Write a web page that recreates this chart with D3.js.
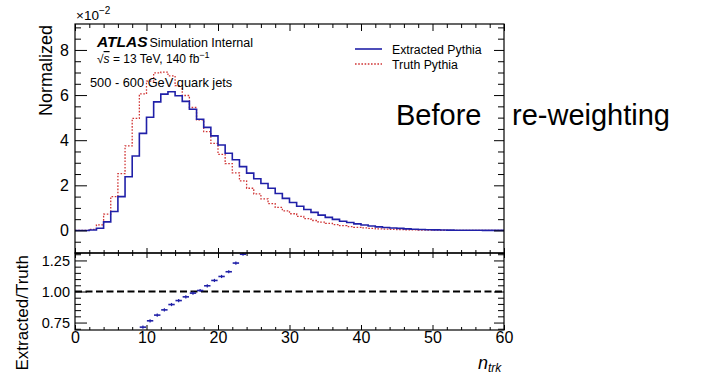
<!DOCTYPE html>
<html>
<head>
<meta charset="utf-8">
<script src="https://cdn.jsdelivr.net/npm/d3@7"></script>
<style>
  html, body { margin: 0; padding: 0; background: #fff; }
  svg { display: block; }
</style>
</head>
<body>
<svg id="chart" width="720" height="376"></svg>
<script>
// ---------------- DATA ----------------
const nBins = 60;
const xRange = [0, 60];
// Normalized distributions (x 10^-2), one value per unit bin of n_trk
const extracted = [
  0, 0, 0.02, 0.10, 0.38, 0.84, 1.50, 2.38, 3.30, 4.30,
  5.02, 5.70, 6.04, 6.15, 5.97, 5.72, 5.37, 4.93, 4.57, 4.19,
  3.79, 3.42, 3.13, 2.83, 2.54, 2.29, 2.08, 1.87, 1.64, 1.42,
  1.24, 1.07, 0.93, 0.80, 0.68, 0.58, 0.49, 0.41, 0.35, 0.29,
  0.24, 0.20, 0.16, 0.13, 0.11, 0.09, 0.07, 0.05, 0.04, 0.03,
  0.025, 0.02, 0.015, 0.01, 0.01, 0.008, 0.006, 0.005, 0.004, 0.003
];
const truth = [
  0, 0, 0.05, 0.25, 0.72, 1.50, 2.52, 3.75, 4.97, 6.05,
  6.62, 6.98, 7.02, 6.85, 6.42, 5.98, 5.45, 4.90, 4.38, 3.86,
  3.37, 2.96, 2.55, 2.20, 1.87, 1.62, 1.40, 1.19, 1.02, 0.87,
  0.74, 0.62, 0.52, 0.44, 0.37, 0.31, 0.26, 0.21, 0.17, 0.14,
  0.11, 0.09, 0.07, 0.06, 0.05, 0.04, 0.03, 0.025, 0.02, 0.015,
  0.01, 0.008, 0.006, 0.005, 0.004, 0.003, 0.002, 0.002, 0.001, 0.001
];
// Ratio points visible in the lower panel (bin index -> Extracted/Truth)
const ratioBins   = [9, 10, 11, 12, 13, 14, 15, 16, 17, 18, 19, 20, 21, 22, 23];
const ratioValues = [0.713, 0.764, 0.81, 0.852, 0.895, 0.927, 0.957, 0.987, 1.008, 1.046, 1.089, 1.121, 1.159, 1.229, 1.30];

const xMajorTicks = [0, 10, 20, 30, 40, 50, 60];
const yMajorTicks = [0, 2, 4, 6, 8];
const rMajorTicks = [0.75, 1.00, 1.25];
const seriesNames = ["Extracted Pythia", "Truth Pythia"];

// ---------------- LAYOUT ----------------
const FONT = "'Liberation Sans', Arial, Helvetica, sans-serif";
const L = 75, R = 504, T = 24, MID = 253, B = 330;
const blue = "#2020a8", red = "#d03535";

const svg = d3.select("#chart");

const x = d3.scaleLinear().domain(xRange).range([L, R]);
const y = d3.scaleLinear().domain([-1, 9.15]).range([MID, T]);
const yr = d3.scaleLinear().domain([0.69, 1.31]).range([B, MID]);

function range(a, b, s) { const o = []; for (let v = a; v <= b + 1e-9; v += s) o.push(+v.toFixed(4)); return o; }
const notIn = (arr) => (v) => !arr.some(m => Math.abs(m - v) < 1e-6);

const xMinor = range(0, 60, 2).filter(notIn(xMajorTicks));
const yMinor = range(-1, 9, 0.5).filter(notIn(yMajorTicks));
const rMinor = range(0.70, 1.30, 0.05).filter(notIn(rMajorTicks));

// "Before re-weighting" big annotation (behind the frame)
svg.append("text").attr("font-family", FONT).attr("font-size", 29).attr("fill", "#000")
  .attr("x", 396).attr("y", 125).text("Before");
svg.append("text").attr("font-family", FONT).attr("font-size", 29).attr("fill", "#000")
  .attr("x", 512).attr("y", 125).text("re-weighting");

// clip paths
const defs = svg.append("defs");
defs.append("clipPath").attr("id", "clipTop").append("rect")
  .attr("x", L).attr("y", T).attr("width", R - L).attr("height", MID - T);
defs.append("clipPath").attr("id", "clipRat").append("rect")
  .attr("x", L).attr("y", MID - 1).attr("width", R - L).attr("height", B - MID + 1);

// ---------------- HISTOGRAMS ----------------
function stepPoints(vals) {
  const pts = [];
  vals.forEach((v, i) => {
    const x0 = xRange[0] + i * (xRange[1] - xRange[0]) / nBins;
    const x1 = xRange[0] + (i + 1) * (xRange[1] - xRange[0]) / nBins;
    pts.push([x0, v], [x1, v]);
  });
  return pts;
}
const line = d3.line().x(d => x(d[0])).y(d => y(d[1]));

const gTop = svg.append("g").attr("clip-path", "url(#clipTop)");
gTop.append("path").attr("d", line(stepPoints(truth)))
  .attr("fill", "none").attr("stroke", red).attr("stroke-width", 1.3)
  .attr("stroke-dasharray", "1.6,1.6");
gTop.append("path").attr("d", line(stepPoints(extracted)))
  .attr("fill", "none").attr("stroke", blue).attr("stroke-width", 1.6);

// ---------------- RATIO ----------------
const gRat = svg.append("g").attr("clip-path", "url(#clipRat)");
gRat.append("line").attr("x1", x(0)).attr("x2", x(60)).attr("y1", yr(1)).attr("y2", yr(1))
  .attr("stroke", "#000").attr("stroke-width", 2).attr("stroke-dasharray", "7,3.5");
const binW = (xRange[1] - xRange[0]) / nBins;
ratioBins.forEach((b, i) => {
  const cx = x(xRange[0] + (b + 0.5) * binW), cy = yr(ratioValues[i]);
  gRat.append("line").attr("x1", cx - 3.2).attr("x2", cx + 3.2).attr("y1", cy).attr("y2", cy)
    .attr("stroke", blue).attr("stroke-width", 1.6);
  gRat.append("line").attr("x1", cx).attr("x2", cx).attr("y1", cy - 1.6).attr("y2", cy + 1.6)
    .attr("stroke", blue).attr("stroke-width", 1.2);
});

// ---------------- AXES ----------------
function axis(gen, tx, ty, vals, size, fmt, pad, fs) {
  const g = svg.append("g").attr("transform", `translate(${tx},${ty})`)
    .call(gen.tickValues(vals).tickSize(size).tickSizeOuter(0).tickPadding(pad || 3)
      .tickFormat(fmt || (() => "")));
  g.select(".domain").remove();
  g.selectAll(".tick line").attr("stroke", "#000").attr("stroke-width", 1);
  g.attr("font-family", FONT).attr("font-size", fs || 15);
  g.selectAll(".tick text").attr("fill", "#000");
  return g;
}
// top panel
axis(d3.axisLeft(y), L, 0, yMajorTicks, -12, d3.format("d"), 6, 16);
axis(d3.axisLeft(y), L, 0, yMinor, -6);
axis(d3.axisRight(y), R, 0, yMajorTicks, -10);
axis(d3.axisRight(y), R, 0, yMinor, -6);
axis(d3.axisTop(x), 0, T, xMajorTicks, -7);
axis(d3.axisTop(x), 0, T, xMinor, -4);
axis(d3.axisBottom(x), 0, MID, xMajorTicks, -5);
axis(d3.axisBottom(x), 0, MID, xMinor, -3);
// ratio panel
axis(d3.axisTop(x), 0, MID, xMajorTicks, -5);
axis(d3.axisTop(x), 0, MID, xMinor, -3);
axis(d3.axisBottom(x), 0, B, xMajorTicks, -5, d3.format("d"), 2, 16);
axis(d3.axisBottom(x), 0, B, xMinor, -3);
axis(d3.axisLeft(yr), L, 0, rMajorTicks, -12, d3.format(".2f"), 5, 14.5);
axis(d3.axisLeft(yr), L, 0, rMinor, -6);
axis(d3.axisRight(yr), R, 0, rMajorTicks, -10);
axis(d3.axisRight(yr), R, 0, rMinor, -6);

// frames
svg.append("rect").attr("x", L).attr("y", T).attr("width", R - L).attr("height", MID - T)
  .attr("fill", "none").attr("stroke", "#000").attr("stroke-width", 1.2);
svg.append("rect").attr("x", L).attr("y", MID).attr("width", R - L).attr("height", B - MID)
  .attr("fill", "none").attr("stroke", "#000").attr("stroke-width", 1.2);

// ---------------- TEXT ----------------
// x10^-2
const mult = svg.append("text").attr("font-family", FONT).attr("font-size", 13.5).attr("x", 76).attr("y", 20);
mult.append("tspan").text("×10");
mult.append("tspan").attr("font-size", 10).attr("dy", -6).text("−2");

// y titles
svg.append("text").attr("font-family", FONT).attr("font-size", 18).attr("text-anchor", "end")
  .attr("transform", "translate(52,25) rotate(-90)").text("Normalized");
svg.append("text").attr("font-family", FONT).attr("font-size", 17).attr("text-anchor", "end")
  .attr("transform", "translate(28,255) rotate(-90)").text("Extracted/Truth");

// x title
const xt = svg.append("text").attr("font-family", FONT).attr("x", 478).attr("y", 369);
xt.append("tspan").attr("font-size", 18).attr("font-style", "italic").text("n");
xt.append("tspan").attr("font-size", 12).attr("font-style", "italic").attr("dy", 3).text("trk");

// ATLAS label
const atl = svg.append("text").attr("font-family", FONT).attr("x", 97).attr("y", 47);
atl.append("tspan").attr("font-size", 15.5).attr("font-weight", "bold").attr("font-style", "italic").text("ATLAS");
atl.append("tspan").attr("font-size", 12.5).attr("dx", 2).text("Simulation Internal");

const sq = svg.append("text").attr("font-family", FONT).attr("font-size", 12).attr("x", 97).attr("y", 63);
sq.append("tspan").text("√");
sq.append("tspan").attr("text-decoration", "overline").attr("font-style", "italic").text("s");
sq.append("tspan").text(" = 13 TeV, 140 fb");
sq.append("tspan").attr("font-size", 9).attr("dy", -5).text("−1");

svg.append("text").attr("font-family", FONT).attr("font-size", 12.8).attr("x", 90).attr("y", 87)
  .text("500 - 600 GeV quark jets");

// legend
const legend = [
  { name: seriesNames[0], color: blue, dash: null, w: 1.6, y: 49 },
  { name: seriesNames[1], color: red, dash: "1.6,1.6", w: 1.3, y: 64 }
];
legend.forEach(d => {
  svg.append("line").attr("x1", 355).attr("x2", 382).attr("y1", d.y).attr("y2", d.y)
    .attr("stroke", d.color).attr("stroke-width", d.w).attr("stroke-dasharray", d.dash);
  svg.append("text").attr("font-family", FONT).attr("font-size", 12.3).attr("x", 392).attr("y", d.y + 4.5)
    .text(d.name);
});
</script>
</body>
</html>
